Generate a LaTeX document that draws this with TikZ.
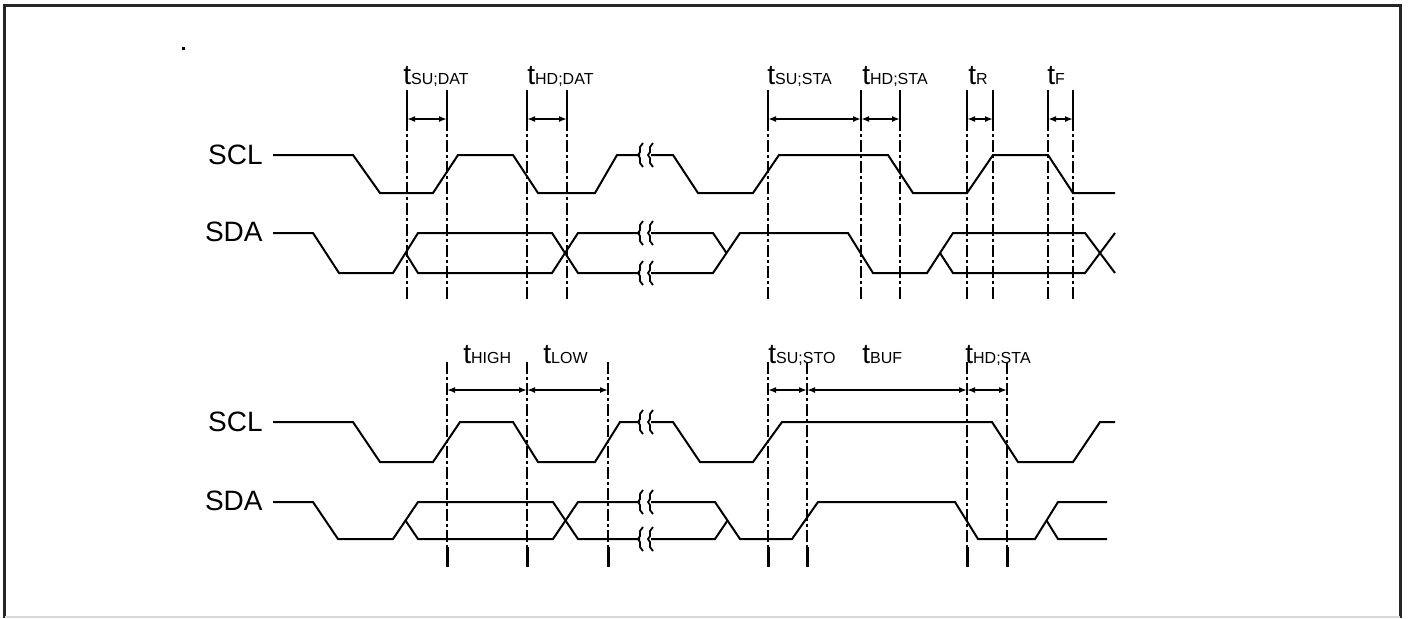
\documentclass[tikz,border=0pt]{standalone}
\usepackage{fontspec}
\setmainfont{Liberation Sans}
\usetikzlibrary{arrows.meta}
\newcommand{\tsub}[1]{t{\fontsize{8}{8}\selectfont #1}}
\tikzset{
  sig/.style={draw,line width=1pt},
  markln/.style={draw,line width=1pt,dash pattern=on 6pt off 1.5pt on 1.5pt off 1.5pt},
  tickln/.style={draw,line width=1pt},
  meas/.style={draw,line width=1pt,{Latex[length=4pt,width=3pt]}-{Latex[length=4pt,width=3pt]}},
  lbl/.style={anchor=base west,inner sep=0pt,font=\fontsize{14}{14}\selectfont},
  sname/.style={anchor=east,inner sep=0pt,font=\fontsize{14}{14}\selectfont},
  gapmark/.pic={
    \path[draw,line width=0.9pt] (3,-12) -- (0,-8) -- (0,-3) -- (-2,0) -- (0,3) -- (0,8) -- (3,12);
    \path[draw,line width=0.9pt] (13,-12) -- (10,-8) -- (10,-3) -- (8,0) -- (10,3) -- (10,8) -- (13,12);
  }
}
\begin{document}
\begin{tikzpicture}[x=0.5pt,y=-0.5pt]
\useasboundingbox (0,0) rectangle (1408,618);
% frame
\path[draw,line width=1.5pt,black!85] (4.5,618) -- (4.5,5) -- (1400,5) -- (1400,618);
\path[draw,line width=1pt,black!15] (4.5,617) -- (1400,617);
\fill (181.5,46.5) rectangle (184.5,49.5);

% ---- upper diagram ----
\node[sname] (scla) at (263,155) {SCL};
\node[sname] (sdaa) at (263,232) {SDA};
\node[lbl] (tsudat) at (403,84) {\tsub{SU;DAT}};
\node[lbl] (thddat) at (527,84) {\tsub{HD;DAT}};
\node[lbl] (tsusta) at (767,84) {\tsub{SU;STA}};
\node[lbl] (thdsta) at (862,84) {\tsub{HD;STA}};
\node[lbl] (tr) at (968,84) {\tsub{R}};
\node[lbl] (tf) at (1047,84) {\tsub{F}};

% SCL
\path[sig] (273,155) -- (353,155) -- (380,193) -- (433,193) -- (458,155) -- (513,155) -- (538,193) -- (595,193) -- (617,155) -- (640,155);
\path[sig] (651,155) -- (673,155) -- (698,193) -- (753,193) -- (779,155) -- (888,155) -- (913,193) -- (967,193) -- (993,155) -- (1048,155) -- (1073,193) -- (1115,193);
% SDA
\path[sig] (273,233) -- (313,233) -- (339,273) -- (393,273) -- (418,233) -- (552,233) -- (578,273) -- (640,273);
\path[sig] (405.5,253) -- (418,273) -- (552,273) -- (578,233) -- (640,233);
\path[sig] (651,273) -- (713,273) -- (740,233) -- (848,233) -- (873,273) -- (927,273) -- (953,233) -- (1085,233) -- (1115,273);
\path[sig] (651,233) -- (713,233) -- (726.5,253);
\path[sig] (940,253) -- (953,273) -- (1085,273) -- (1115,233);
\pic at (640,155) {gapmark};
\pic at (640,233) {gapmark};
\pic at (640,273) {gapmark};

% timing marks
\path[tickln] (407,90) -- (407,119);
\path[tickln] (447,90) -- (447,119);
\path[tickln] (527,90) -- (527,119);
\path[tickln] (567,90) -- (567,119);
\path[tickln] (768,90) -- (768,119);
\path[tickln] (861,90) -- (861,119);
\path[tickln] (900,90) -- (900,119);
\path[tickln] (967,90) -- (967,119);
\path[tickln] (993,90) -- (993,119);
\path[tickln] (1048,90) -- (1048,119);
\path[tickln] (1073,90) -- (1073,119);
\path[markln] (407,119) -- (407,300);
\path[markln] (447,119) -- (447,300);
\path[markln] (527,119) -- (527,300);
\path[markln] (567,119) -- (567,300);
\path[markln] (768,119) -- (768,300);
\path[markln] (861,119) -- (861,300);
\path[markln] (900,119) -- (900,300);
\path[markln] (967,119) -- (967,300);
\path[markln] (993,119) -- (993,300);
\path[markln] (1048,119) -- (1048,300);
\path[markln] (1073,119) -- (1073,300);
\path[meas] (407,119) -- (447,119);
\path[meas] (527,119) -- (567,119);
\path[meas] (768,119) -- (861,119);
\path[meas] (861,119) -- (900,119);
\path[meas] (967,119) -- (993,119);
\path[meas] (1048,119) -- (1073,119);

% ---- lower diagram ----
\node[sname] (sclb) at (263,422) {SCL};
\node[sname] (sdab) at (263,501) {SDA};
\node[lbl] (thigh) at (463,363) {\tsub{HIGH}};
\node[lbl] (tlow) at (543,363) {\tsub{LOW}};
\node[lbl] (tsusto) at (768,363) {\tsub{SU;STO}};
\node[lbl] (tbuf) at (862,363) {\tsub{BUF}};
\node[lbl] (thdstb) at (965,363) {\tsub{HD;STA}};

% SCL
\path[sig] (273,422) -- (353,422) -- (380,462) -- (433,462) -- (460,422) -- (513,422) -- (538,462) -- (595,462) -- (620,422) -- (640,422);
\path[sig] (651,422) -- (673,422) -- (700,462) -- (753,462) -- (782,422) -- (992,422) -- (1018,462) -- (1073,462) -- (1100,422) -- (1115,422);
% SDA
\path[sig] (273,502) -- (313,502) -- (338,539) -- (393,539) -- (418,502) -- (553,502) -- (578,539) -- (640,539);
\path[sig] (405.5,520.5) -- (418,539) -- (553,539) -- (578,502) -- (640,502);
\path[sig] (651,502) -- (715,502) -- (740,539) -- (792,539) -- (818,502) -- (955,502) -- (978,539) -- (1035,539) -- (1058,502) -- (1107,502);
\path[sig] (651,539) -- (715,539) -- (727.5,520.5);
\path[sig] (1046.5,520.5) -- (1058,539) -- (1107,539);
\pic at (640,422) {gapmark};
\pic at (640,502) {gapmark};
\pic at (640,539) {gapmark};

% timing marks
\path[markln] (447,362) -- (447,547);
\path[markln] (527,362) -- (527,547);
\path[markln] (608,362) -- (608,547);
\path[markln] (768,362) -- (768,547);
\path[markln] (807,362) -- (807,547);
\path[markln] (967,362) -- (967,547);
\path[markln] (1007,362) -- (1007,547);
\path[tickln,line width=1.5pt] (447,547) -- (447,567);
\path[tickln,line width=1.5pt] (527,547) -- (527,567);
\path[tickln,line width=1.5pt] (608,547) -- (608,567);
\path[tickln,line width=1.5pt] (768,547) -- (768,567);
\path[tickln,line width=1.5pt] (807,547) -- (807,567);
\path[tickln,line width=1.5pt] (967,547) -- (967,567);
\path[tickln,line width=1.5pt] (1007,547) -- (1007,567);
\path[meas] (447,390) -- (527,390);
\path[meas] (527,390) -- (608,390);
\path[meas] (768,390) -- (807,390);
\path[meas] (807,390) -- (967,390);
\path[meas] (967,390) -- (1007,390);
\end{tikzpicture}
\end{document}
